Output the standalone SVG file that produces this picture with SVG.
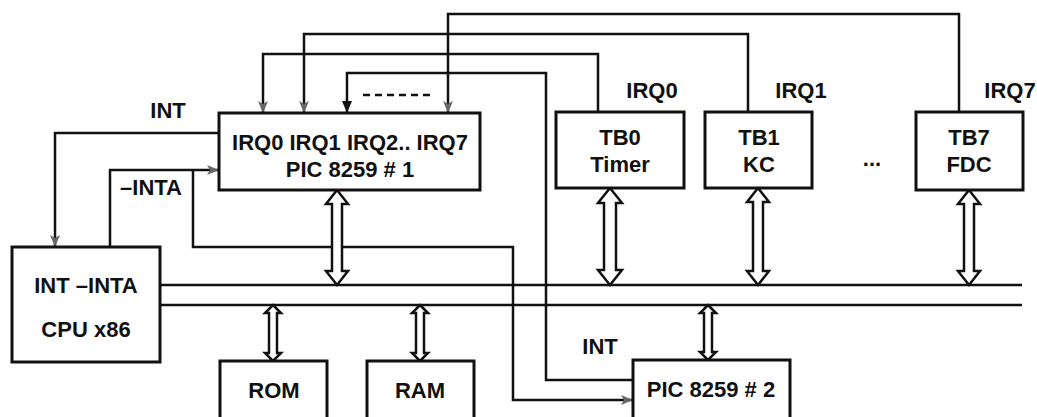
<svg xmlns="http://www.w3.org/2000/svg" width="1037" height="417" viewBox="0 0 1037 417">
<defs>
<style>
.box{fill:#fff;stroke:#111;stroke-width:3}
.ln{fill:none;stroke:#111;stroke-width:2.5}
.dash{fill:none;stroke:#111;stroke-width:2.5;stroke-dasharray:7 5}
.da{fill:#fff;stroke:#111;stroke-width:2.5;stroke-linejoin:miter}
text{font-family:"Liberation Sans",Arial,sans-serif;font-size:22px;font-weight:bold;fill:#111}
.c{text-anchor:middle}
</style>
<marker id="ah" markerUnits="userSpaceOnUse" markerWidth="12" markerHeight="10" refX="12" refY="5" orient="auto" viewBox="0 0 12 10"><path d="M0,0 L12,5 L0,10 z" fill="#111"/></marker>
<marker id="ahg" markerUnits="userSpaceOnUse" markerWidth="12" markerHeight="10" refX="12" refY="5" orient="auto" viewBox="0 0 12 10"><path d="M0,0 L12,5 L0,10 L3,5 z" fill="#666"/></marker>
</defs>
<rect width="1037" height="417" fill="#fff"/>

<g id="connectors">
<path class="ln" d="M959,112 V14 H448 V113" marker-end="url(#ahg)"/>
<path class="ln" d="M748,112 V34 H304 V113" marker-end="url(#ahg)"/>
<path class="ln" d="M598,112 V54 H263 V113" marker-end="url(#ahg)"/>
<path class="ln" d="M633,380 H546 V73 H347 V113" marker-end="url(#ah)"/>
<path class="dash" d="M363,95 H432"/>
<path class="ln" d="M219,133 H55 V247" marker-end="url(#ahg)"/>
<path class="ln" d="M110,247 V170 H219" marker-end="url(#ahg)"/>
<path class="ln" d="M193,170 V247 H513 V400 H633" marker-end="url(#ahg)"/>
<path class="ln" d="M160,285 H1022 M160,305 H1022"/>
<polygon class="da" points="337,190 348,204 342,204 342,271 348,271 337,285 326,271 332,271 332,204 326,204"/>
<polygon class="da" points="610,188 622,203 616,203 616,270 622,270 610,285 598,270 604,270 604,203 598,203"/>
<polygon class="da" points="758,188 769,202 763,202 763,271 769,271 758,285 747,271 753,271 753,202 747,202"/>
<polygon class="da" points="969,190 980,204 974,204 974,271 980,271 969,285 958,271 964,271 964,204 958,204"/>
<polygon class="da" points="273,305 281,313 277,313 277,353 281,353 273,361 265,353 269,353 269,313 265,313"/>
<polygon class="da" points="420,305 428,313 424,313 424,353 428,353 420,361 412,353 416,353 416,313 412,313"/>
<polygon class="da" points="708,305 716,313 712,313 712,352 716,352 708,360 700,352 704,352 704,313 700,313"/>
<text x="168" y="118" class="c">INT</text>
<text x="151" y="195" class="c">–INTA</text>
<text x="600" y="354" class="c">INT</text>
<text x="652" y="98" class="c">IRQ0</text>
<text x="801" y="98" class="c">IRQ1</text>
<text x="1010" y="98" class="c">IRQ7</text>
</g>

<g id="cpu">
<rect class="box" x="12" y="247" width="148" height="115"/>
<text x="86" y="293" class="c">INT –INTA</text>
<text x="86" y="337" class="c">CPU x86</text>
</g>
<g id="pic1">
<rect class="box" x="219" y="113" width="261" height="77"/>
<text x="350" y="150" class="c">IRQ0 IRQ1 IRQ2.. IRQ7</text>
<text x="350" y="177" class="c">PIC 8259 # 1</text>
</g>
<g id="tb0">
<rect class="box" x="556" y="112" width="128" height="76"/>
<text x="620" y="145" class="c">TB0</text>
<text x="620" y="172" class="c">Timer</text>
</g>
<g id="tb1">
<rect class="box" x="705" y="112" width="107" height="76"/>
<text x="759" y="145" class="c">TB1</text>
<text x="759" y="172" class="c">KC</text>
</g>
<g id="dots">
<text x="872" y="166" class="c" style="font-size:22px">...</text>
</g>
<g id="tb7">
<rect class="box" x="916" y="112" width="107" height="78"/>
<text x="969" y="145" class="c">TB7</text>
<text x="969" y="172" class="c">FDC</text>
</g>
<g id="rom">
<rect class="box" x="220" y="361" width="107" height="70"/>
<text x="274" y="398" class="c">ROM</text>
</g>
<g id="ram">
<rect class="box" x="367" y="361" width="107" height="70"/>
<text x="420" y="398" class="c">RAM</text>
</g>
<g id="pic2">
<rect class="box" x="633" y="360" width="157" height="70"/>
<text x="711" y="397" class="c">PIC 8259 # 2</text>
</g>
</svg>
